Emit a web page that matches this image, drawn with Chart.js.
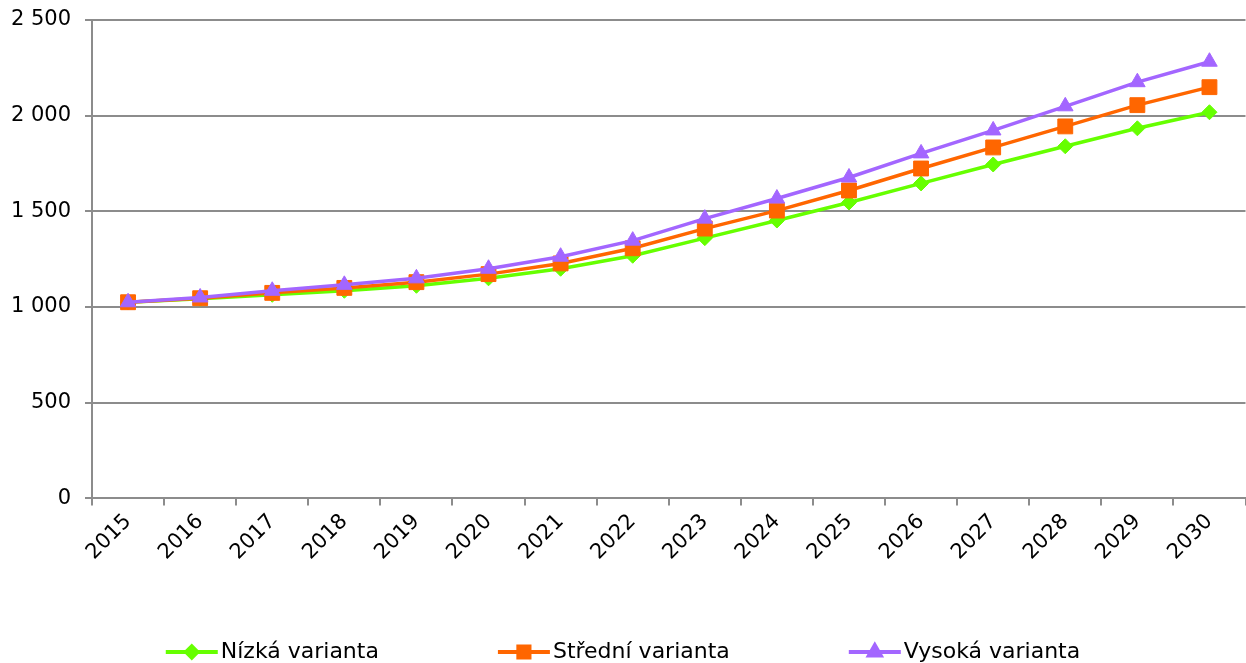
<!DOCTYPE html>
<html lang="cs">
<head>
    <meta charset="UTF-8">
    <title>Varianty projekce</title>
    <script src="https://cdn.jsdelivr.net/npm/chart.js"></script>
    <style>
        html, body {
            margin: 0;
            padding: 0;
            background: #ffffff;
            overflow: hidden;
        }
        /* a bit wider than the window: the original plot runs past the right edge */
        .chart-box {
            position: relative;
            width: 1257px;
            height: 663px;
        }
    </style>
</head>
<body>
    <div class="chart-box">
        <canvas id="chart"></canvas>
    </div>

    <script>
        const years = ["2015", "2016", "2017", "2018", "2019", "2020", "2021", "2022",
                       "2023", "2024", "2025", "2026", "2027", "2028", "2029", "2030"];

        const lowValues = [1025, 1043, 1064, 1085, 1111, 1150, 1200, 1268,
                           1360, 1452, 1546, 1646, 1745, 1840, 1934, 2018];
        const midValues = [1025, 1046, 1074, 1100, 1130, 1172, 1228, 1307,
                           1410, 1504, 1609, 1724, 1834, 1944, 2055, 2149];
        const highValues = [1025, 1050, 1085, 1116, 1150, 1200, 1263, 1347,
                            1462, 1567, 1677, 1803, 1923, 2049, 2175, 2282];

        const yTicks = [0, 500, 1000, 1500, 2000, 2500];

        const FONT = "'DejaVu Sans', Verdana, sans-serif";
        const GRID = '#8c8c8c';
        const VIEW_W = 1246;

        function fmt(v) {
            return String(v).replace(/\B(?=(\d{3})+(?!\d))/g, ' ');
        }

        // legend drawn by hand: line with marker, like the original
        const lineLegend = {
            id: 'lineLegend',
            afterDraw(chart) {
                const ctx = chart.ctx;
                const items = chart.data.datasets;
                const lineLen = 52, gap = 3, between = 119;
                ctx.save();
                ctx.font = '22px ' + FONT;
                const widths = items.map(d => lineLen + gap + ctx.measureText(d.label).width);
                const total = widths.reduce((a, b) => a + b, 0) + between * (items.length - 1);
                let x = (VIEW_W - total) / 2;
                const y = 652;
                items.forEach((d, i) => {
                    ctx.strokeStyle = d.borderColor;
                    ctx.fillStyle = d.borderColor;
                    ctx.lineWidth = 4;
                    ctx.beginPath();
                    ctx.moveTo(x, y);
                    ctx.lineTo(x + lineLen, y);
                    ctx.stroke();
                    Chart.helpers.drawPoint(ctx, {
                        pointStyle: d.pointStyle,
                        radius: d.pointRadius * 0.75,
                        borderWidth: 1
                    }, x + lineLen / 2, y);
                    ctx.fillStyle = '#000000';
                    ctx.textBaseline = 'middle';
                    ctx.textAlign = 'left';
                    ctx.fillText(d.label, x + lineLen + gap, y);
                    x += widths[i] + between;
                });
                ctx.restore();
            }
        };

        new Chart(document.getElementById('chart'), {
            type: 'line',
            data: {
                labels: years,
                datasets: [
                    {
                        label: 'Nízká varianta',
                        data: lowValues,
                        borderColor: '#66ff00',
                        backgroundColor: '#66ff00',
                        pointStyle: 'rectRot',
                        pointRadius: 7.5,
                        order: 3
                    },
                    {
                        label: 'Střední varianta',
                        data: midValues,
                        borderColor: '#ff6600',
                        backgroundColor: '#ff6600',
                        pointStyle: 'rect',
                        pointRadius: 10.5,
                        order: 2
                    },
                    {
                        label: 'Vysoká varianta',
                        data: highValues,
                        borderColor: '#a366ff',
                        backgroundColor: '#a366ff',
                        pointStyle: 'triangle',
                        pointRadius: 9,
                        order: 1
                    }
                ]
            },
            options: {
                responsive: true,
                maintainAspectRatio: false,
                animation: false,
                layout: {
                    padding: { left: 10, top: 20, right: 0, bottom: 94 }
                },
                elements: {
                    line: { borderWidth: 3.5, tension: 0 },
                    point: { borderWidth: 1, hoverRadius: 10 }
                },
                plugins: {
                    legend: { display: false },
                    tooltip: { enabled: false }
                },
                scales: {
                    x: {
                        offset: true,
                        afterFit(scale) {
                            scale.paddingLeft = 0;
                            scale.paddingRight = 0;
                        },
                        grid: {
                            offset: true,
                            drawOnChartArea: false,
                            drawTicks: true,
                            tickLength: 7,
                            color: GRID,
                            lineWidth: 2
                        },
                        border: { color: GRID, width: 2 },
                        ticks: {
                            color: '#000000',
                            font: { family: FONT, size: 21 },
                            maxRotation: 45,
                            minRotation: 45,
                            padding: 4,
                            autoSkip: false
                        }
                    },
                    y: {
                        min: 0,
                        max: 2500,
                        afterBuildTicks(scale) {
                            scale.ticks = yTicks.map(v => ({ value: v }));
                        },
                        afterFit(scale) {
                            scale.width = 82;
                            scale.paddingTop = 0;
                            scale.paddingBottom = 0;
                        },
                        grid: {
                            color: GRID,
                            lineWidth: 2,
                            tickLength: 7
                        },
                        border: { color: GRID, width: 2 },
                        ticks: {
                            color: '#000000',
                            font: { family: FONT, size: 21 },
                            padding: 14,
                            callback: v => fmt(v)
                        }
                    }
                }
            },
            plugins: [lineLegend]
        });
    </script>
</body>
</html>
